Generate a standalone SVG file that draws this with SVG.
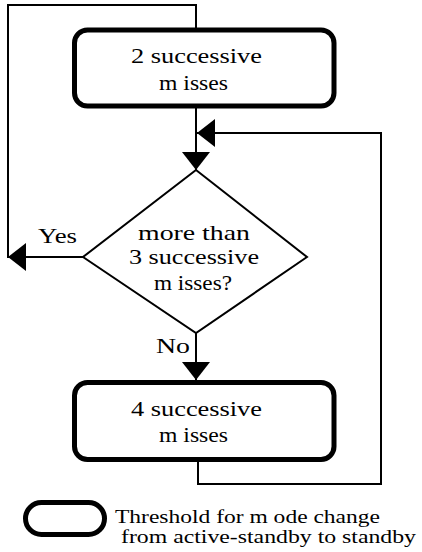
<svg xmlns="http://www.w3.org/2000/svg" width="422" height="552" viewBox="0 0 422 552">
  <style>
    .box { fill: #fff; stroke: #000; stroke-width: 5; }
    .dec { fill: #fff; stroke: #000; stroke-width: 2; }
    .wire { fill: none; stroke: #000; stroke-width: 2; }
    text { font-family: "Liberation Serif", "DejaVu Serif", serif; font-size: 21px; fill: #000; }
    .mid { text-anchor: middle; }
    .note { font-size: 18px; }
  </style>
  <defs>
    <marker id="arrow" viewBox="0 0 18 28" refX="18" refY="14" markerWidth="18" markerHeight="28" markerUnits="userSpaceOnUse" orient="auto">
      <path d="M0,0 L18,14 L0,28 z" fill="#000"/>
    </marker>
  </defs>
  <rect width="422" height="552" fill="#fff"/>

  <g id="connectors">
    <!-- Yes branch loops back to the top box -->
    <path class="wire" d="M10,257 H8 V5 H196 V30"/>
    <path class="wire" d="M83,257 H8" marker-end="url(#arrow)"/>
    <path class="wire" d="M196,106 V170" marker-end="url(#arrow)"/>
    <path class="wire" d="M196,333 V380" marker-end="url(#arrow)"/>
    <!-- return path from the lower box into the decision input -->
    <path class="wire" d="M198,460 V484 H381 V133 H197" marker-end="url(#arrow)"/>
  </g>

  <g id="node-two-misses">
    <rect class="box" x="74.5" y="30" width="259.5" height="76" rx="13"/>
    <text x="196.5" y="63" class="mid" textLength="131" lengthAdjust="spacingAndGlyphs">2 successive</text>
    <text x="193.5" y="90" class="mid" textLength="69" lengthAdjust="spacingAndGlyphs">m isses</text>
  </g>

  <g id="node-decision">
    <polygon class="dec" points="196,170 307,257 196,333 83,257"/>
    <text x="194" y="240" class="mid" textLength="112" lengthAdjust="spacingAndGlyphs">more than</text>
    <text x="194" y="264" class="mid" textLength="130" lengthAdjust="spacingAndGlyphs">3 successive</text>
    <text x="193" y="290" class="mid" textLength="78" lengthAdjust="spacingAndGlyphs">m isses?</text>
  </g>

  <g id="label-yes">
    <text x="38" y="243" textLength="39" lengthAdjust="spacingAndGlyphs">Yes</text>
  </g>
  <g id="label-no">
    <text x="156" y="353" textLength="34" lengthAdjust="spacingAndGlyphs">No</text>
  </g>

  <g id="node-four-misses">
    <rect class="box" x="74.5" y="382.5" width="259.5" height="77" rx="13"/>
    <text x="196.5" y="416" class="mid" textLength="131" lengthAdjust="spacingAndGlyphs">4 successive</text>
    <text x="193.5" y="442" class="mid" textLength="69" lengthAdjust="spacingAndGlyphs">m isses</text>
  </g>

  <g id="legend">
    <rect class="box" x="25.5" y="502.5" width="79" height="32" rx="16"/>
    <text x="115" y="523" class="note" textLength="265" lengthAdjust="spacingAndGlyphs">Threshold for m ode change</text>
    <text x="121" y="543" class="note" textLength="295" lengthAdjust="spacingAndGlyphs">from  active-standby to standby</text>
  </g>
</svg>
